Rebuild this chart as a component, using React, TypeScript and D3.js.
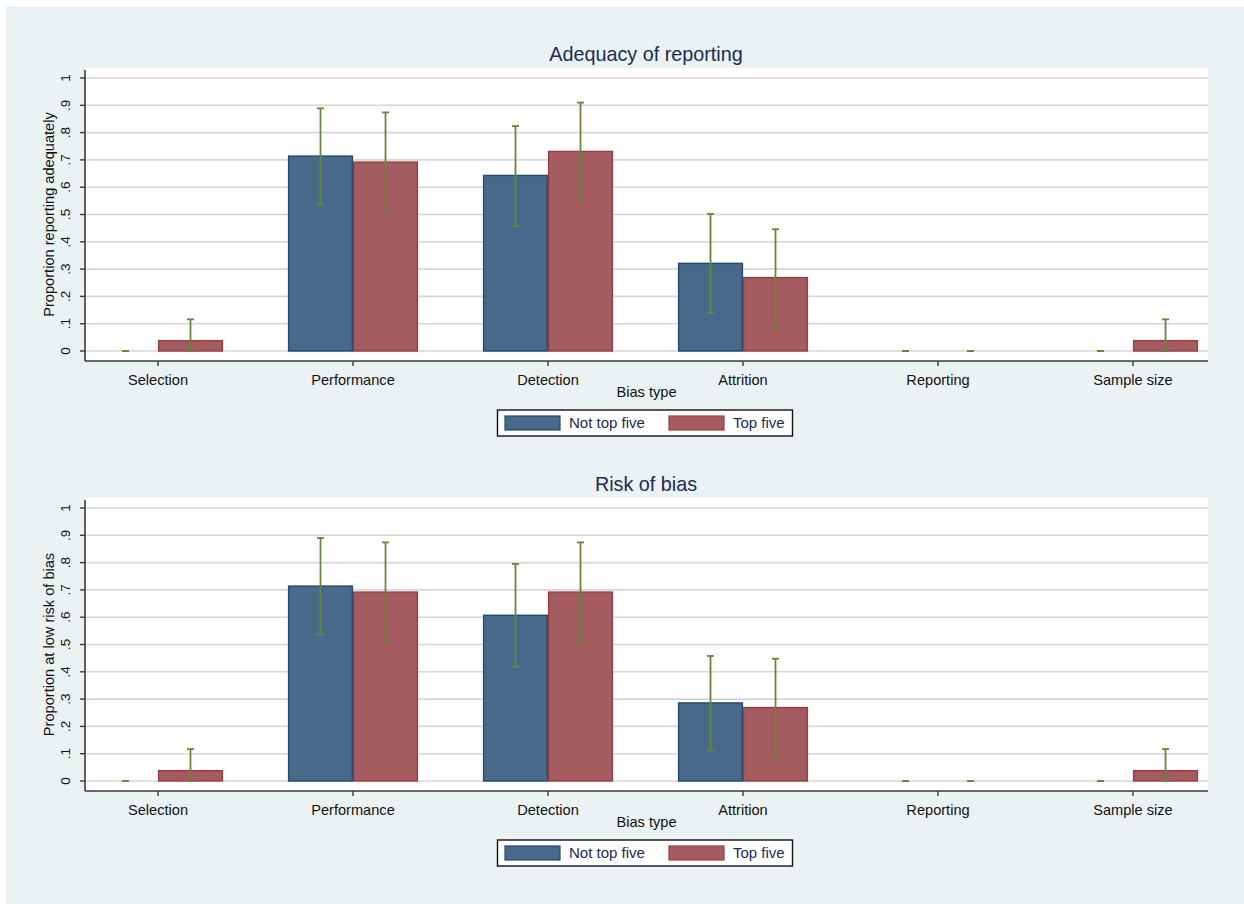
import React from "react";
import * as d3 from "d3";

const categories = ["Selection", "Performance", "Detection", "Attrition", "Reporting", "Sample size"];
const seriesNames = ["Not top five", "Top five"];

// Panel 1: Adequacy of reporting
const adequacyNotTop = [0, 0.714, 0.643, 0.321, 0, 0];
const adequacyNotTopLo = [0, 0.537, 0.457, 0.140, 0, 0];
const adequacyNotTopHi = [0, 0.889, 0.824, 0.502, 0, 0];
const adequacyTop = [0.038, 0.692, 0.731, 0.269, 0, 0.038];
const adequacyTopLo = [0, 0.507, 0.552, 0.089, 0, 0];
const adequacyTopHi = [0.116, 0.874, 0.910, 0.446, 0, 0.116];

// Panel 2: Risk of bias
const riskNotTop = [0, 0.714, 0.607, 0.286, 0, 0];
const riskNotTopLo = [0, 0.537, 0.418, 0.111, 0, 0];
const riskNotTopHi = [0, 0.890, 0.795, 0.458, 0, 0];
const riskTop = [0.038, 0.692, 0.692, 0.269, 0, 0.038];
const riskTopLo = [0, 0.507, 0.507, 0.089, 0, 0];
const riskTopHi = [0.117, 0.874, 0.874, 0.448, 0, 0.117];

const yTicks = [0, 0.1, 0.2, 0.3, 0.4, 0.5, 0.6, 0.7, 0.8, 0.9, 1];
const yTickLabels = ["0", ".1", ".2", ".3", ".4", ".5", ".6", ".7", ".8", ".9", "1"];

const panels = [
  {
    title: "Adequacy of reporting",
    yTitle: "Proportion reporting adequately",
    series: [
      { v: adequacyNotTop, lo: adequacyNotTopLo, hi: adequacyNotTopHi },
      { v: adequacyTop, lo: adequacyTopLo, hi: adequacyTopHi },
    ],
  },
  {
    title: "Risk of bias",
    yTitle: "Proportion at low risk of bias",
    series: [
      { v: riskNotTop, lo: riskNotTopLo, hi: riskNotTopHi },
      { v: riskTop, lo: riskTopLo, hi: riskTopHi },
    ],
  },
];

const FILLS = ["#476a8b", "#a55c60"];
const STROKES = ["#23496f", "#983c43"];
const ERR = "#66863a";
const TEXT = "#1d2b55";
const FONT = "'Liberation Sans', Arial, sans-serif";

const OX = 6, OY = 6; // svg offset on page

function Panel({ p, dy }: { p: (typeof panels)[number]; dy: number }) {
  const left = 85 - OX, right = 1208 - OX;
  const top = 68 - OY + dy, axisY = 361 - OY + dy;
  const y = d3.scaleLinear().domain([0, 1]).range([351 - OY + dy, 78 - OY + dy]);
  const x = d3.scalePoint<string>().domain(categories).range([158 - OX, 1133 - OX]);
  const bw = x.step() / 3;
  const cap = 3.5;
  const midX = (left + right) / 2;
  return (
    <g>
      <text x={646 - OX} y={61 - OY + dy} textAnchor="middle" fontSize={19.8} fill={TEXT} fontFamily={FONT}>
        {p.title}
      </text>
      <rect x={left} y={top} width={right - left} height={axisY - top} fill="#ffffff" />
      {yTicks.map((t) => (
        <line key={"g" + t} x1={left} x2={right} y1={y(t)} y2={y(t)} stroke="#d6d6d6" strokeWidth={1.6} />
      ))}
      {p.series.map((s, si) =>
        categories.map((c, i) => {
          const x0 = (x(c) as number) + (si === 0 ? -bw : 0);
          const h = y(0) - y(s.v[i]);
          return s.v[i] > 0 ? (
            <rect
              key={"b" + si + i}
              x={x0 + 0.6}
              y={y(s.v[i])}
              width={bw - 1.2}
              height={h}
              fill={FILLS[si]}
              stroke={STROKES[si]}
              strokeWidth={1.4}
            />
          ) : null;
        })
      )}
      {p.series.map((s, si) =>
        categories.map((c, i) => {
          const cx = (x(c) as number) + (si === 0 ? -bw / 2 : bw / 2);
          return (
            <g key={"e" + si + i} stroke={ERR} strokeWidth={1.8}>
              <line x1={cx} x2={cx} y1={y(s.lo[i])} y2={y(s.hi[i])} />
              <line x1={cx - cap} x2={cx + cap} y1={y(s.hi[i])} y2={y(s.hi[i])} />
              <line x1={cx - cap} x2={cx + cap} y1={y(s.lo[i])} y2={y(s.lo[i])} />
            </g>
          );
        })
      )}
      {/* axes */}
      <line x1={left} x2={left} y1={y(1) - 8} y2={axisY} stroke="#3a3a3a" strokeWidth={1.6} />
      <line x1={left} x2={right} y1={axisY} y2={axisY} stroke="#3a3a3a" strokeWidth={1.6} />
      {yTicks.map((t, i) => (
        <g key={"t" + t}>
          <line x1={left - 5} x2={left} y1={y(t)} y2={y(t)} stroke="#3a3a3a" strokeWidth={1.4} />
          <text
            transform={`translate(${70 - OX},${y(t)}) rotate(-90)`}
            textAnchor="middle"
            fontSize={13.5}
            fill="#111"
            fontFamily={FONT}
          >
            {yTickLabels[i]}
          </text>
        </g>
      ))}
      <text
        transform={`translate(${54 - OX},${(y(0) + y(1)) / 2}) rotate(-90)`}
        textAnchor="middle"
        fontSize={14.6}
        fill="#111"
        fontFamily={FONT}
      >
        {p.yTitle}
      </text>
      {categories.map((c) => (
        <g key={"x" + c}>
          <line x1={x(c)} x2={x(c)} y1={axisY} y2={axisY + 5} stroke="#3a3a3a" strokeWidth={1.4} />
          <text x={x(c)} y={385 - OY + dy} textAnchor="middle" fontSize={14.6} fill="#111" fontFamily={FONT}>
            {c}
          </text>
        </g>
      ))}
      <text x={midX} y={397 - OY + dy} textAnchor="middle" fontSize={14.6} fill="#111" fontFamily={FONT}>
        Bias type
      </text>
      {/* legend */}
      <rect x={497.5 - OX} y={410 - OY + dy} width={295} height={26} fill="#fff" stroke="#111" strokeWidth={1.4} />
      {seriesNames.map((n, si) => {
        const sx = (si === 0 ? 505 : 669) - OX;
        return (
          <g key={"l" + n}>
            <rect x={sx} y={416 - OY + dy} width={55} height={14} fill={FILLS[si]} stroke={STROKES[si]} strokeWidth={1.2} />
            <text x={sx + 64} y={428 - OY + dy} fontSize={15} fill={TEXT} fontFamily={FONT}>
              {n}
            </text>
          </g>
        );
      })}
    </g>
  );
}

export default function App() {
  return (
    <svg
      width={1238}
      height={898}
      style={{ position: "absolute", left: OX, top: OY, display: "block" }}
    >
      <rect x={0} y={0} width={1238} height={898} fill="#eaf2f3" />
      {panels.map((p, i) => (
        <Panel key={p.title} p={p} dy={i * 430} />
      ))}
    </svg>
  );
}
